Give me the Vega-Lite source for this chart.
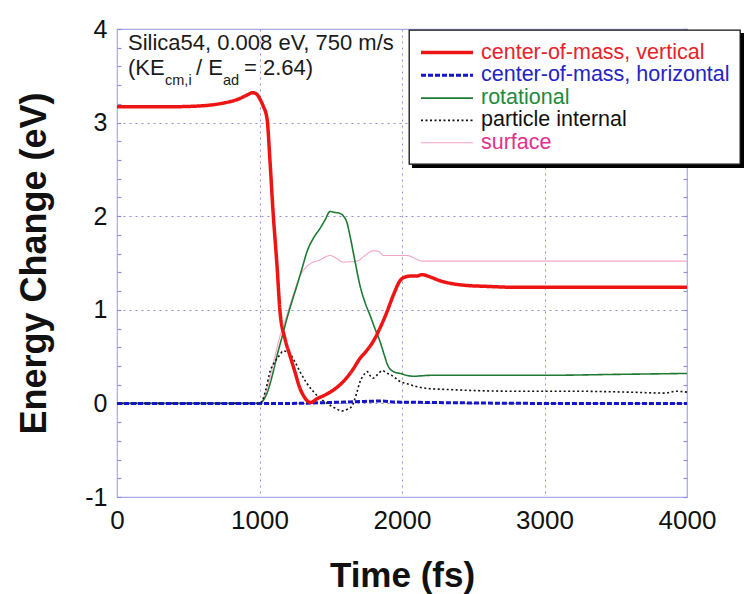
{
  "$schema": "https://vega.github.io/schema/vega-lite/v6.json",
  "width": 570,
  "height": 468,
  "autosize": {"type": "none"},
  "padding": {"left": 117, "top": 29, "right": 60, "bottom": 97},
  "background": "white",
  "config": {
    "font": "Liberation Sans",
    "view": {"stroke": "#a9a9e6", "strokeWidth": 1.2},
    "legend": {"strokeWidth": 1.3},
    "axis": {
      "labelFont": "Liberation Sans",
      "titleFont": "Liberation Sans",
      "labelColor": "#111111",
      "titleColor": "#111111",
      "domain": false,
      "gridColor": "#8f8fdc",
      "gridDash": [2, 4],
      "gridWidth": 1,
      "tickColor": "#8f8fdc",
      "tickWidth": 1.2
    }
  },
  "datasets": {
    "curves": [
      {"t": 0, "E": 0, "s": "surface"},
      {"t": 1000, "E": 0, "s": "surface"},
      {"t": 1050, "E": 0.15, "s": "surface"},
      {"t": 1100, "E": 0.45, "s": "surface"},
      {"t": 1140, "E": 0.7, "s": "surface"},
      {"t": 1179, "E": 0.88, "s": "surface"},
      {"t": 1235, "E": 1.15, "s": "surface"},
      {"t": 1284, "E": 1.36, "s": "surface"},
      {"t": 1354, "E": 1.49, "s": "surface"},
      {"t": 1420, "E": 1.53, "s": "surface"},
      {"t": 1495, "E": 1.58, "s": "surface"},
      {"t": 1540, "E": 1.55, "s": "surface"},
      {"t": 1586, "E": 1.51, "s": "surface"},
      {"t": 1684, "E": 1.52, "s": "surface"},
      {"t": 1740, "E": 1.58, "s": "surface"},
      {"t": 1797, "E": 1.63, "s": "surface"},
      {"t": 1840, "E": 1.62, "s": "surface"},
      {"t": 1870, "E": 1.58, "s": "surface"},
      {"t": 1895, "E": 1.58, "s": "surface"},
      {"t": 2035, "E": 1.58, "s": "surface"},
      {"t": 2090, "E": 1.55, "s": "surface"},
      {"t": 2140, "E": 1.52, "s": "surface"},
      {"t": 2500, "E": 1.52, "s": "surface"},
      {"t": 3000, "E": 1.52, "s": "surface"},
      {"t": 4000, "E": 1.52, "s": "surface"},

      {"t": 0, "E": 0, "s": "rotational"},
      {"t": 500, "E": 0, "s": "rotational"},
      {"t": 1000, "E": 0, "s": "rotational"},
      {"t": 1030, "E": 0.04, "s": "rotational"},
      {"t": 1060, "E": 0.14, "s": "rotational"},
      {"t": 1090, "E": 0.3, "s": "rotational"},
      {"t": 1123, "E": 0.51, "s": "rotational"},
      {"t": 1160, "E": 0.72, "s": "rotational"},
      {"t": 1193, "E": 0.91, "s": "rotational"},
      {"t": 1230, "E": 1.1, "s": "rotational"},
      {"t": 1263, "E": 1.26, "s": "rotational"},
      {"t": 1300, "E": 1.45, "s": "rotational"},
      {"t": 1333, "E": 1.62, "s": "rotational"},
      {"t": 1380, "E": 1.77, "s": "rotational"},
      {"t": 1425, "E": 1.87, "s": "rotational"},
      {"t": 1460, "E": 1.96, "s": "rotational"},
      {"t": 1495, "E": 2.05, "s": "rotational"},
      {"t": 1530, "E": 2.04, "s": "rotational"},
      {"t": 1565, "E": 2.03, "s": "rotational"},
      {"t": 1590, "E": 2.0, "s": "rotational"},
      {"t": 1614, "E": 1.93, "s": "rotational"},
      {"t": 1635, "E": 1.79, "s": "rotational"},
      {"t": 1670, "E": 1.52, "s": "rotational"},
      {"t": 1705, "E": 1.26, "s": "rotational"},
      {"t": 1740, "E": 1.08, "s": "rotational"},
      {"t": 1776, "E": 0.94, "s": "rotational"},
      {"t": 1810, "E": 0.8, "s": "rotational"},
      {"t": 1846, "E": 0.66, "s": "rotational"},
      {"t": 1875, "E": 0.52, "s": "rotational"},
      {"t": 1902, "E": 0.4, "s": "rotational"},
      {"t": 1940, "E": 0.34, "s": "rotational"},
      {"t": 1986, "E": 0.32, "s": "rotational"},
      {"t": 2077, "E": 0.29, "s": "rotational"},
      {"t": 2200, "E": 0.3, "s": "rotational"},
      {"t": 2500, "E": 0.3, "s": "rotational"},
      {"t": 3000, "E": 0.3, "s": "rotational"},
      {"t": 3500, "E": 0.31, "s": "rotational"},
      {"t": 4000, "E": 0.32, "s": "rotational"},

      {"t": 0, "E": 0, "s": "particle internal"},
      {"t": 1000, "E": 0, "s": "particle internal"},
      {"t": 1020, "E": 0.03, "s": "particle internal"},
      {"t": 1045, "E": 0.15, "s": "particle internal"},
      {"t": 1074, "E": 0.34, "s": "particle internal"},
      {"t": 1110, "E": 0.45, "s": "particle internal"},
      {"t": 1144, "E": 0.52, "s": "particle internal"},
      {"t": 1165, "E": 0.56, "s": "particle internal"},
      {"t": 1193, "E": 0.55, "s": "particle internal"},
      {"t": 1214, "E": 0.53, "s": "particle internal"},
      {"t": 1250, "E": 0.44, "s": "particle internal"},
      {"t": 1284, "E": 0.34, "s": "particle internal"},
      {"t": 1330, "E": 0.22, "s": "particle internal"},
      {"t": 1376, "E": 0.13, "s": "particle internal"},
      {"t": 1420, "E": 0.06, "s": "particle internal"},
      {"t": 1474, "E": 0.0, "s": "particle internal"},
      {"t": 1530, "E": -0.05, "s": "particle internal"},
      {"t": 1579, "E": -0.08, "s": "particle internal"},
      {"t": 1620, "E": -0.06, "s": "particle internal"},
      {"t": 1649, "E": -0.03, "s": "particle internal"},
      {"t": 1680, "E": 0.1, "s": "particle internal"},
      {"t": 1705, "E": 0.23, "s": "particle internal"},
      {"t": 1730, "E": 0.3, "s": "particle internal"},
      {"t": 1755, "E": 0.34, "s": "particle internal"},
      {"t": 1780, "E": 0.29, "s": "particle internal"},
      {"t": 1797, "E": 0.27, "s": "particle internal"},
      {"t": 1830, "E": 0.31, "s": "particle internal"},
      {"t": 1860, "E": 0.35, "s": "particle internal"},
      {"t": 1900, "E": 0.32, "s": "particle internal"},
      {"t": 1937, "E": 0.29, "s": "particle internal"},
      {"t": 1980, "E": 0.24, "s": "particle internal"},
      {"t": 2035, "E": 0.21, "s": "particle internal"},
      {"t": 2100, "E": 0.18, "s": "particle internal"},
      {"t": 2176, "E": 0.16, "s": "particle internal"},
      {"t": 2300, "E": 0.15, "s": "particle internal"},
      {"t": 2456, "E": 0.14, "s": "particle internal"},
      {"t": 2800, "E": 0.13, "s": "particle internal"},
      {"t": 3200, "E": 0.13, "s": "particle internal"},
      {"t": 3600, "E": 0.12, "s": "particle internal"},
      {"t": 3850, "E": 0.11, "s": "particle internal"},
      {"t": 3920, "E": 0.13, "s": "particle internal"},
      {"t": 4000, "E": 0.12, "s": "particle internal"},

      {"t": 0, "E": 0, "s": "center-of-mass, horizontal"},
      {"t": 1000, "E": 0, "s": "center-of-mass, horizontal"},
      {"t": 1200, "E": 0.0, "s": "center-of-mass, horizontal"},
      {"t": 1500, "E": 0.01, "s": "center-of-mass, horizontal"},
      {"t": 1700, "E": 0.02, "s": "center-of-mass, horizontal"},
      {"t": 1850, "E": 0.025, "s": "center-of-mass, horizontal"},
      {"t": 1950, "E": 0.015, "s": "center-of-mass, horizontal"},
      {"t": 2200, "E": 0.01, "s": "center-of-mass, horizontal"},
      {"t": 3000, "E": 0.0, "s": "center-of-mass, horizontal"},
      {"t": 4000, "E": 0.0, "s": "center-of-mass, horizontal"},

      {"t": 0, "E": 3.17, "s": "center-of-mass, vertical"},
      {"t": 400, "E": 3.17, "s": "center-of-mass, vertical"},
      {"t": 600, "E": 3.18, "s": "center-of-mass, vertical"},
      {"t": 750, "E": 3.21, "s": "center-of-mass, vertical"},
      {"t": 850, "E": 3.25, "s": "center-of-mass, vertical"},
      {"t": 920, "E": 3.3, "s": "center-of-mass, vertical"},
      {"t": 950, "E": 3.32, "s": "center-of-mass, vertical"},
      {"t": 975, "E": 3.31, "s": "center-of-mass, vertical"},
      {"t": 1000, "E": 3.26, "s": "center-of-mass, vertical"},
      {"t": 1025, "E": 3.18, "s": "center-of-mass, vertical"},
      {"t": 1053, "E": 3.04, "s": "center-of-mass, vertical"},
      {"t": 1074, "E": 2.58, "s": "center-of-mass, vertical"},
      {"t": 1095, "E": 2.05, "s": "center-of-mass, vertical"},
      {"t": 1123, "E": 1.47, "s": "center-of-mass, vertical"},
      {"t": 1144, "E": 0.98, "s": "center-of-mass, vertical"},
      {"t": 1179, "E": 0.69, "s": "center-of-mass, vertical"},
      {"t": 1214, "E": 0.51, "s": "center-of-mass, vertical"},
      {"t": 1250, "E": 0.33, "s": "center-of-mass, vertical"},
      {"t": 1284, "E": 0.16, "s": "center-of-mass, vertical"},
      {"t": 1310, "E": 0.08, "s": "center-of-mass, vertical"},
      {"t": 1333, "E": 0.03, "s": "center-of-mass, vertical"},
      {"t": 1360, "E": 0.01, "s": "center-of-mass, vertical"},
      {"t": 1404, "E": 0.05, "s": "center-of-mass, vertical"},
      {"t": 1460, "E": 0.09, "s": "center-of-mass, vertical"},
      {"t": 1516, "E": 0.14, "s": "center-of-mass, vertical"},
      {"t": 1586, "E": 0.23, "s": "center-of-mass, vertical"},
      {"t": 1650, "E": 0.35, "s": "center-of-mass, vertical"},
      {"t": 1705, "E": 0.48, "s": "center-of-mass, vertical"},
      {"t": 1750, "E": 0.56, "s": "center-of-mass, vertical"},
      {"t": 1797, "E": 0.66, "s": "center-of-mass, vertical"},
      {"t": 1850, "E": 0.82, "s": "center-of-mass, vertical"},
      {"t": 1895, "E": 0.98, "s": "center-of-mass, vertical"},
      {"t": 1940, "E": 1.16, "s": "center-of-mass, vertical"},
      {"t": 1986, "E": 1.31, "s": "center-of-mass, vertical"},
      {"t": 2020, "E": 1.35, "s": "center-of-mass, vertical"},
      {"t": 2056, "E": 1.36, "s": "center-of-mass, vertical"},
      {"t": 2100, "E": 1.36, "s": "center-of-mass, vertical"},
      {"t": 2140, "E": 1.375, "s": "center-of-mass, vertical"},
      {"t": 2200, "E": 1.35, "s": "center-of-mass, vertical"},
      {"t": 2267, "E": 1.31, "s": "center-of-mass, vertical"},
      {"t": 2350, "E": 1.28, "s": "center-of-mass, vertical"},
      {"t": 2456, "E": 1.26, "s": "center-of-mass, vertical"},
      {"t": 2600, "E": 1.25, "s": "center-of-mass, vertical"},
      {"t": 2800, "E": 1.24, "s": "center-of-mass, vertical"},
      {"t": 3200, "E": 1.24, "s": "center-of-mass, vertical"},
      {"t": 4000, "E": 1.24, "s": "center-of-mass, vertical"}
    ]
  },
  "layer": [
    {
      "data": {"values": [{}]},
      "mark": {"type": "rect", "color": "#000000"},
      "encoding": {
        "x": {"datum": 2070, "type": "quantitative"},
        "x2": {"datum": 4400},
        "y": {"datum": 3.957, "type": "quantitative", "axis": null},
        "y2": {"datum": 2.515}
      }
    },
    {
      "data": {"name": "curves"},
      "mark": {"type": "line", "interpolate": "monotone", "clip": true},
      "encoding": {
        "x": {
          "field": "t",
          "type": "quantitative",
          "scale": {"domain": [0, 4000], "nice": false},
          "axis": {
            "values": [0, 1000, 2000, 3000, 4000],
            "format": "d",
            "labelFlush": false,
            "title": "Time (fs)",
            "titleFontSize": 35,
            "titleFontWeight": "bold",
            "titlePadding": 25,
            "labelFontSize": 26,
            "labelPadding": 10,
            "ticks": false,
            "grid": true,
            "gridOpacity": {"condition": {"test": "datum.value > 0 && datum.value < 4000", "value": 1}, "value": 0}
          }
        },
        "y": {
          "field": "E",
          "type": "quantitative",
          "scale": {"domain": [-1, 4], "nice": false},
          "axis": {
            "orient": "left",
            "values": [-1, -0.8, -0.6, -0.4, -0.2, 0, 0.2, 0.4, 0.6, 0.8, 1, 1.2, 1.4, 1.6, 1.8, 2, 2.2, 2.4, 2.6, 2.8, 3, 3.2, 3.4, 3.6, 3.8, 4],
            "labelExpr": "datum.value % 1 === 0 ? '' + datum.value : ''",
            "title": "Energy Change (eV)",
            "titleFontSize": 36,
            "titleFontWeight": "bold",
            "titlePadding": 31,
            "labelFontSize": 25,
            "labelPadding": 14,
            "tickSize": -4,
            "grid": true,
            "gridOpacity": {"condition": {"test": "datum.value % 1 === 0 && datum.value > -1 && datum.value < 4", "value": 1}, "value": 0}
          }
        },
        "color": {
          "field": "s",
          "type": "nominal",
          "title": null,
          "scale": {
            "domain": ["center-of-mass, vertical", "center-of-mass, horizontal", "rotational", "particle internal", "surface"],
            "range": ["#ee1414", "#1414c8", "#1f7a34", "#111111", "#f4a6ca"]
          },
          "legend": {
            "orient": "none", "legendX": 292, "legendY": 1,
            "symbolType": "M-1,0H3.95", "symbolSize": 441,
            "labelFontSize": 21.5, "labelFont": "Liberation Sans", "labelLimit": 500,
            "labelColor": {"expr": "datum.label === 'surface' ? '#e4308e' : datum.label === 'rotational' ? '#238a3c' : datum.label === 'particle internal' ? '#111111' : datum.label === 'center-of-mass, horizontal' ? '#2424c4' : '#e6232b'"},
            "padding": 10, "rowPadding": 0.3, "labelOffset": 37,
            "strokeColor": "#111111", "fillColor": "white"
          }
        },
        "strokeDash": {
          "field": "s",
          "type": "nominal",
          "title": null,
          "scale": {
            "domain": ["center-of-mass, vertical", "center-of-mass, horizontal", "rotational", "particle internal", "surface"],
            "range": [[1, 0], [5, 2], [1, 0], [2, 2.5], [1, 0]]
          },
          "legend": {
            "orient": "none", "legendX": 292, "legendY": 1,
            "symbolType": "M-1,0H3.95", "symbolSize": 441,
            "labelFontSize": 21.5, "labelFont": "Liberation Sans", "labelLimit": 500,
            "labelColor": {"expr": "datum.label === 'surface' ? '#e4308e' : datum.label === 'rotational' ? '#238a3c' : datum.label === 'particle internal' ? '#111111' : datum.label === 'center-of-mass, horizontal' ? '#2424c4' : '#e6232b'"},
            "padding": 10, "rowPadding": 0.3, "labelOffset": 37,
            "strokeColor": "#111111", "fillColor": "white"
          }
        },
        "strokeWidth": {
          "field": "s",
          "type": "ordinal",
          "title": null,
          "scale": {
            "type": "ordinal",
            "domain": ["center-of-mass, vertical", "center-of-mass, horizontal", "rotational", "particle internal", "surface"],
            "range": [3.5, 3, 1.6, 1.6, 1.1]
          },
          "legend": {
            "orient": "none", "legendX": 292, "legendY": 1,
            "symbolType": "M-1,0H3.95", "symbolSize": 441,
            "labelFontSize": 21.5, "labelFont": "Liberation Sans", "labelLimit": 500,
            "labelColor": {"expr": "datum.label === 'surface' ? '#e4308e' : datum.label === 'rotational' ? '#238a3c' : datum.label === 'particle internal' ? '#111111' : datum.label === 'center-of-mass, horizontal' ? '#2424c4' : '#e6232b'"},
            "padding": 10, "rowPadding": 0.3, "labelOffset": 37,
            "strokeColor": "#111111", "fillColor": "white"
          }
        }
      }
    },
    {
      "data": {"values": [{}]},
      "mark": {"type": "text", "align": "left", "baseline": "alphabetic", "fontSize": 22, "font": "Liberation Sans", "color": "#1a1a1a"},
      "encoding": {
        "x": {"datum": 77, "type": "quantitative"},
        "y": {"datum": 3.776, "type": "quantitative", "axis": {"orient": "right", "values": [-1, -0.8, -0.6, -0.4, -0.2, 0, 0.2, 0.4, 0.6, 0.8, 1, 1.2, 1.4, 1.6, 1.8, 2, 2.2, 2.4, 2.6, 2.8, 3, 3.2, 3.4, 3.6, 3.8, 4], "labels": false, "grid": false, "domain": false, "tickSize": -4, "title": null}},
        "text": {"value": "Silica54, 0.008 eV, 750 m/s"}
      }
    },
    {
      "data": {"values": [{}]},
      "mark": {"type": "text", "align": "left", "baseline": "alphabetic", "fontSize": 22, "font": "Liberation Sans", "color": "#1a1a1a"},
      "encoding": {
        "x": {"datum": 77, "type": "quantitative"},
        "y": {"datum": 3.509, "type": "quantitative", "axis": null},
        "text": {"value": "(KE"}
      }
    },
    {
      "data": {"values": [{}]},
      "mark": {"type": "text", "align": "left", "baseline": "alphabetic", "fontSize": 14.5, "font": "Liberation Sans", "color": "#1a1a1a"},
      "encoding": {
        "x": {"datum": 337, "type": "quantitative"},
        "y": {"datum": 3.402, "type": "quantitative", "axis": null},
        "text": {"value": "cm,i"}
      }
    },
    {
      "data": {"values": [{}]},
      "mark": {"type": "text", "align": "left", "baseline": "alphabetic", "fontSize": 22, "font": "Liberation Sans", "color": "#1a1a1a"},
      "encoding": {
        "x": {"datum": 554, "type": "quantitative"},
        "y": {"datum": 3.509, "type": "quantitative", "axis": null},
        "text": {"value": "/ E"}
      }
    },
    {
      "data": {"values": [{}]},
      "mark": {"type": "text", "align": "left", "baseline": "alphabetic", "fontSize": 14.5, "font": "Liberation Sans", "color": "#1a1a1a"},
      "encoding": {
        "x": {"datum": 744, "type": "quantitative"},
        "y": {"datum": 3.402, "type": "quantitative", "axis": null},
        "text": {"value": "ad"}
      }
    },
    {
      "data": {"values": [{}]},
      "mark": {"type": "text", "align": "left", "baseline": "alphabetic", "fontSize": 22, "font": "Liberation Sans", "color": "#1a1a1a"},
      "encoding": {
        "x": {"datum": 891, "type": "quantitative"},
        "y": {"datum": 3.509, "type": "quantitative", "axis": null},
        "text": {"value": "= 2.64)"}
      }
    }
  ],
  "resolve": {"axis": {"y": "independent"}}
}
